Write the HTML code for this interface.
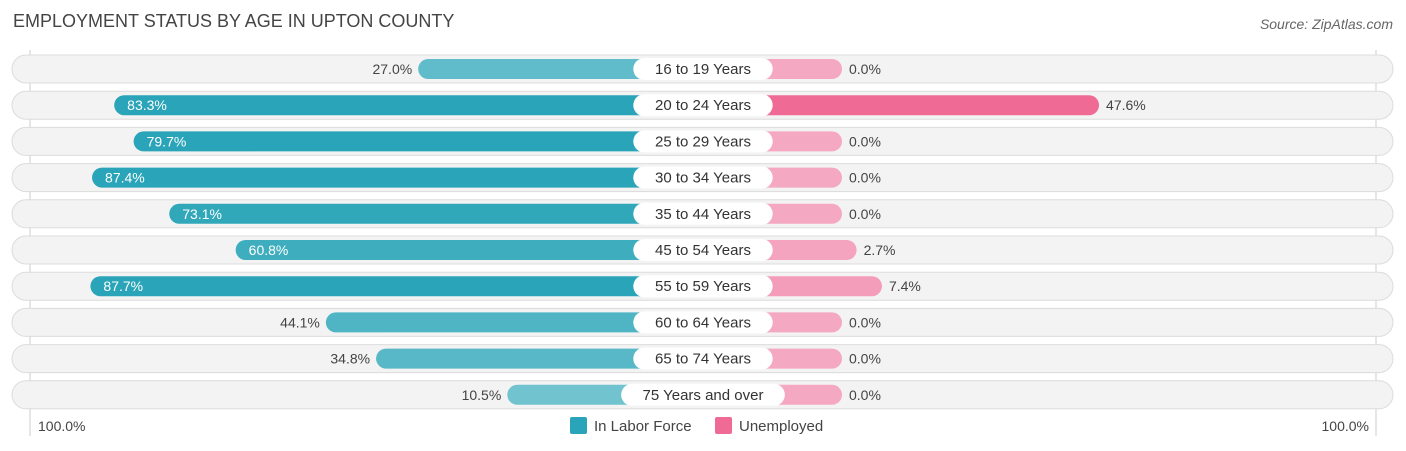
<!DOCTYPE html>
<html><head><meta charset="utf-8"><style>
body{margin:0;background:#fff;font-family:"Liberation Sans",sans-serif;}
#wrap{position:relative;width:1406px;height:451px;overflow:hidden;}
.t{position:absolute;white-space:nowrap;}
</style></head><body>
<div id="wrap">
<div class="t" style="left:13px;top:11px;font-size:18px;color:#444;">EMPLOYMENT STATUS BY AGE IN UPTON COUNTY</div>
<div class="t" style="right:13px;top:16px;font-size:14px;color:#666;font-style:italic;">Source: ZipAtlas.com</div>
<svg id="svg" width="1406" height="451" style="position:absolute;left:0;top:0"></svg>
<div class="t" style="left:38px;top:418px;font-size:14px;color:#444;">100.0%</div>
<div class="t" style="right:37px;top:418px;font-size:14px;color:#444;">100.0%</div>
<div class="t" style="left:570px;top:417px;font-size:15px;color:#444;"><span style="display:inline-block;width:17px;height:17px;background:#2aa4b8;border-radius:2px;vertical-align:-3px;margin-right:7px"></span>In Labor Force</div>
<div class="t" style="left:715px;top:417px;font-size:15px;color:#444;"><span style="display:inline-block;width:17px;height:17px;background:#f06a96;border-radius:2px;vertical-align:-3px;margin-right:7px"></span>Unemployed</div>
</div>
<script>
const categories=["16 to 19 Years","20 to 24 Years","25 to 29 Years","30 to 34 Years","35 to 44 Years","45 to 54 Years","55 to 59 Years","60 to 64 Years","65 to 74 Years","75 Years and over"];
const laborForce=[27.0,83.3,79.7,87.4,73.1,60.8,87.7,44.1,34.8,10.5];
const unemployed=[0.0,47.6,0.0,0.0,0.0,2.7,7.4,0.0,0.0,0.0];
const NS="http://www.w3.org/2000/svg";
const svg=document.getElementById('svg');
const cx=703, base=139, scale=5.4;
function w(v){return base+v*scale;}
function rowY(i){return 69+i*36.2;}
function mk(tag,attrs,parent){const e=document.createElementNS(NS,tag);for(const k in attrs)e.setAttribute(k,attrs[k]);(parent||svg).appendChild(e);return e;}
function mix(a,b,t){return 'rgb('+a.map((x,i)=>Math.round(x+(b[i]-x)*t)).join(',')+')';}
mk('line',{x1:30,y1:50,x2:30,y2:436,stroke:'#ccc','stroke-width':1});
mk('line',{x1:1376,y1:50,x2:1376,y2:436,stroke:'#ccc','stroke-width':1});
categories.forEach((c,i)=>{
  const y=rowY(i);
  const bg=mk('rect',{x:12,y:y-14,width:1381,height:28,rx:14,fill:'#f3f3f3',stroke:'#dcdcdc','stroke-width':1});
  
  
  const lv=laborForce[i], uv=unemployed[i];
  const lw=w(lv);
  const lb=mk('rect',{x:cx-lw,y:y-10,width:lw,height:20,rx:10,fill:mix([124,200,211],[42,164,184],Math.min(1,lv/80))});
  
  
  const uw=w(uv);
  const ub=mk('rect',{x:cx,y:y-10,width:uw,height:20,rx:10,fill:mix([245,168,194],[240,106,150],Math.min(1,uv/40))});
  
  
  const inside=lv>=55;
  const lt=mk('text',{x:inside?cx-lw+13:cx-lw-6,y:y+5,'font-size':14,fill:inside?'#fff':'#444','text-anchor':inside?'start':'end','font-family':'Liberation Sans'});
  lt.textContent=lv.toFixed(1)+'%';
  
  
  const ut=mk('text',{x:cx+uw+7,y:y+5,'font-size':14,fill:'#444','font-family':'Liberation Sans'});
  ut.textContent=uv.toFixed(1)+'%';
  
  
  const tw=c.length*8.1+26;
  const pill=mk('rect',{x:cx-tw/2,y:y-11,width:tw,height:22,rx:11,fill:'#fff'});
  
  
  const ct=mk('text',{x:cx,y:y+5,'font-size':15,fill:'#333','text-anchor':'middle','font-family':'Liberation Sans'});
  ct.textContent=c;
  
  
});
</script>
</body></html>
